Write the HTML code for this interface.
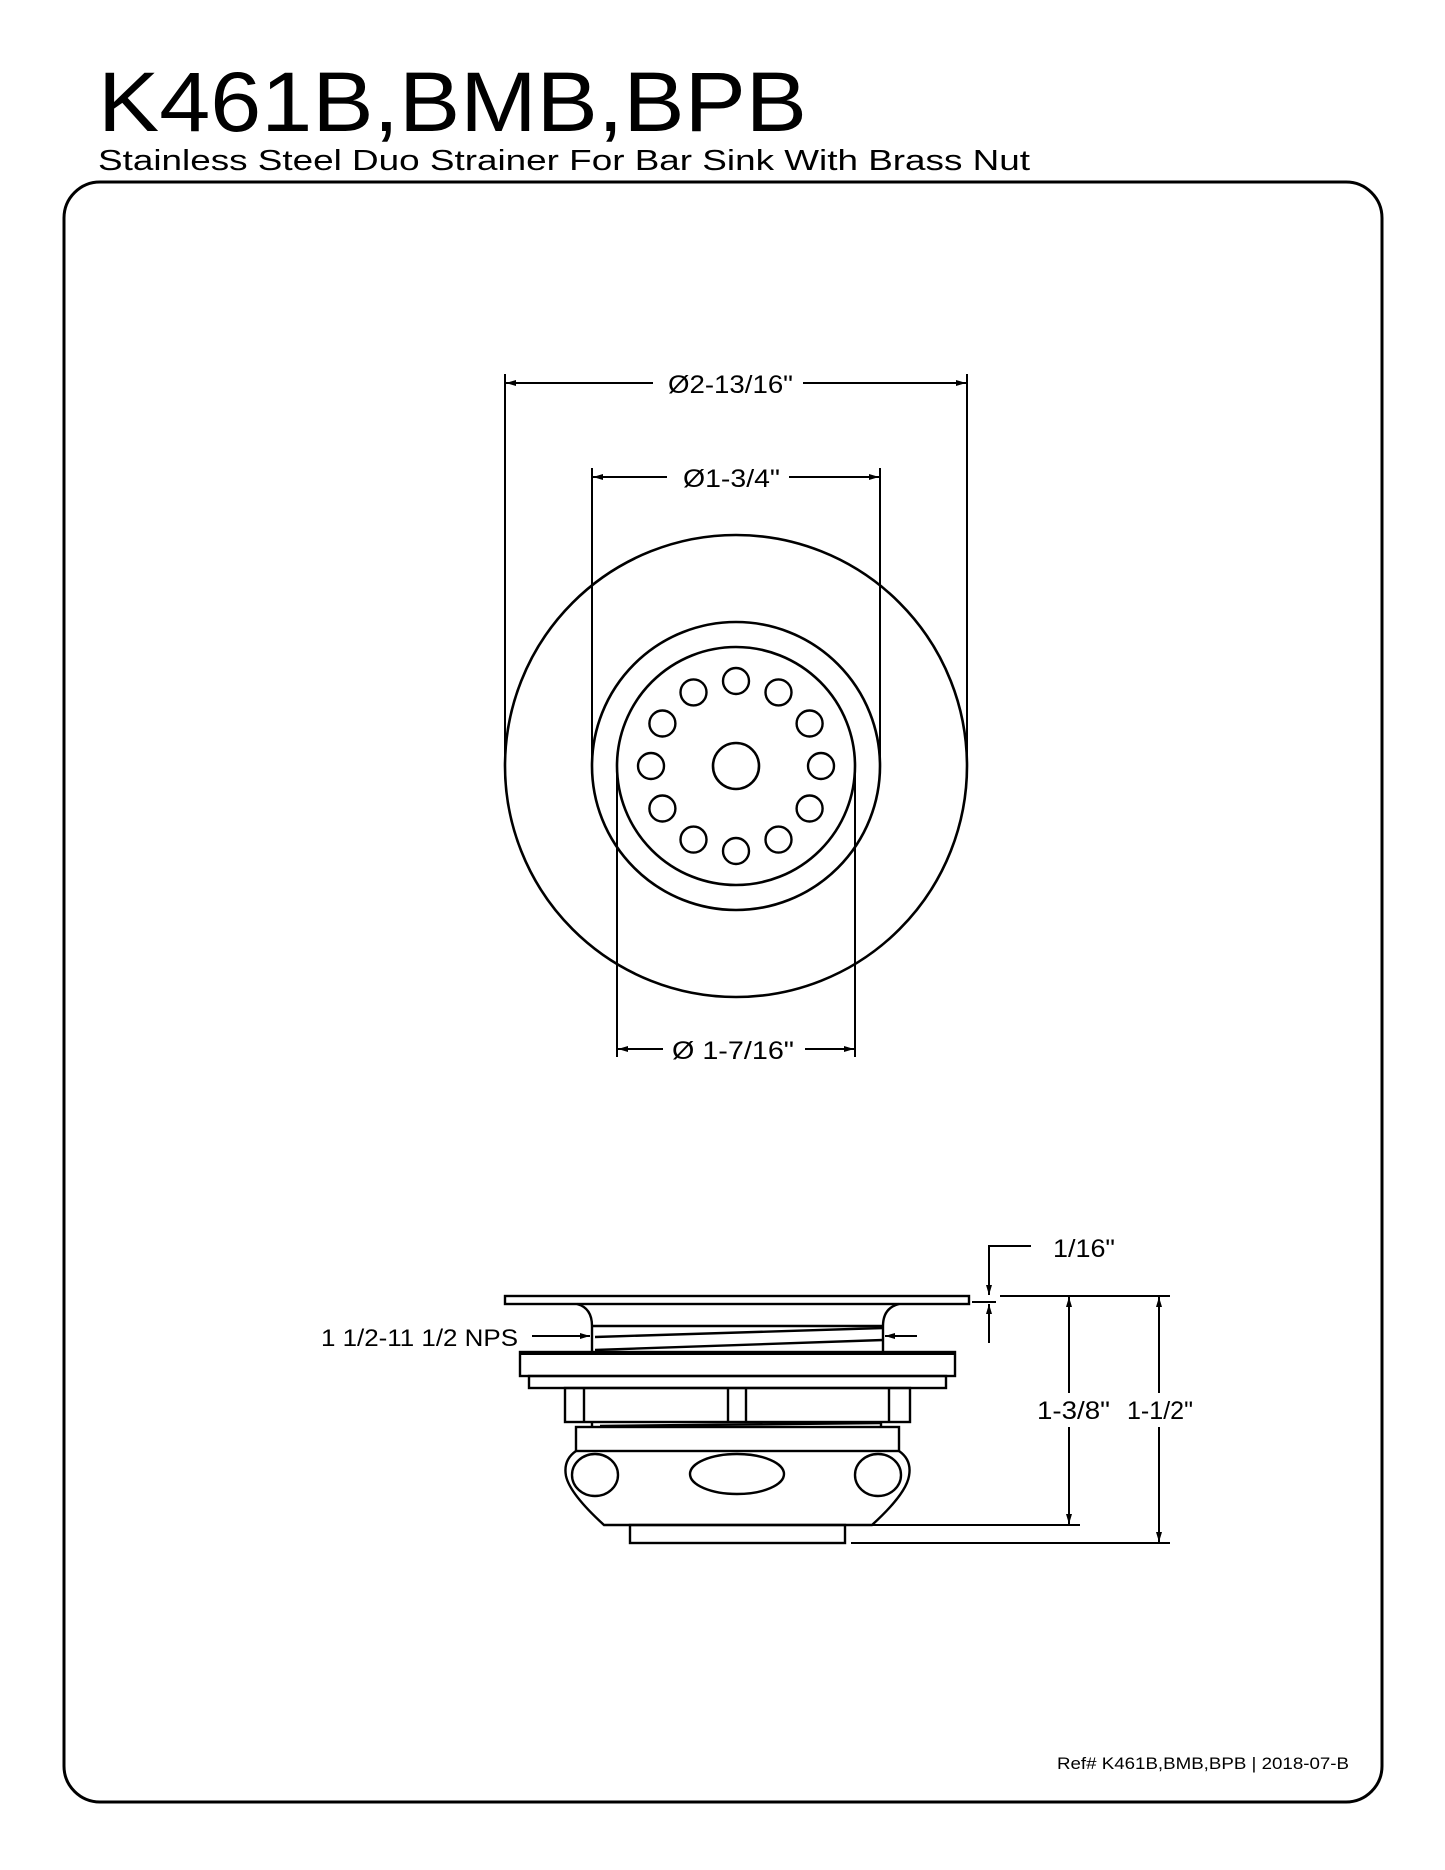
<!DOCTYPE html>
<html><head><meta charset="utf-8"><style>
html,body{margin:0;padding:0;background:#fff;}
svg{display:block;}
text{font-family:"Liberation Sans",sans-serif;fill:#000;}
</style></head><body>
<svg width="1445" height="1870" viewBox="0 0 1445 1870" xmlns="http://www.w3.org/2000/svg">
<defs>
<marker id="a" viewBox="0 0 10 6" refX="10" refY="3" markerWidth="16" markerHeight="6" markerUnits="userSpaceOnUse" orient="auto"><path d="M0,0 L10,3 L0,6 z" fill="#000"/></marker>
</defs>
<text x="98" y="131" font-size="84" textLength="709" lengthAdjust="spacingAndGlyphs">K461B,BMB,BPB</text>
<text x="98" y="170" font-size="29" textLength="932" lengthAdjust="spacingAndGlyphs">Stainless Steel Duo Strainer For Bar Sink With Brass Nut</text>
<rect x="64" y="182" width="1318" height="1620" rx="36" ry="36" fill="none" stroke="#000" stroke-width="3"/>

<g fill="none" stroke="#000" stroke-width="2.6">
<circle cx="736" cy="766" r="231"/>
<circle cx="736" cy="766" r="144"/>
<circle cx="736" cy="766" r="119"/>
<circle cx="736" cy="766" r="23"/>
</g>
<g fill="none" stroke="#000" stroke-width="2.4">
<circle cx="736" cy="681" r="13"/><circle cx="778.5" cy="692.4" r="13"/><circle cx="809.6" cy="723.5" r="13"/>
<circle cx="821" cy="766" r="13"/><circle cx="809.6" cy="808.5" r="13"/><circle cx="778.5" cy="839.6" r="13"/>
<circle cx="736" cy="851" r="13"/><circle cx="693.5" cy="839.6" r="13"/><circle cx="662.4" cy="808.5" r="13"/>
<circle cx="651" cy="766" r="13"/><circle cx="662.4" cy="723.5" r="13"/><circle cx="693.5" cy="692.4" r="13"/>
</g>
<g stroke="#000" stroke-width="2" fill="none">
<line x1="505" y1="374" x2="505" y2="766"/><line x1="967" y1="374" x2="967" y2="766"/>
<line x1="653" y1="383" x2="506" y2="383" marker-end="url(#a)"/>
<line x1="803" y1="383" x2="966" y2="383" marker-end="url(#a)"/>
<line x1="592" y1="468" x2="592" y2="766"/><line x1="880" y1="468" x2="880" y2="766"/>
<line x1="667" y1="477" x2="593" y2="477" marker-end="url(#a)"/>
<line x1="789" y1="477" x2="879" y2="477" marker-end="url(#a)"/>
<line x1="617" y1="766" x2="617" y2="1057"/><line x1="855" y1="766" x2="855" y2="1057"/>
<line x1="663" y1="1049" x2="618" y2="1049" marker-end="url(#a)"/>
<line x1="805" y1="1049" x2="854" y2="1049" marker-end="url(#a)"/>
</g>
<text x="668" y="393" font-size="25" textLength="125" lengthAdjust="spacingAndGlyphs">Ø2-13/16"</text>
<text x="683" y="487" font-size="25" textLength="97" lengthAdjust="spacingAndGlyphs">Ø1-3/4"</text>
<text x="672" y="1059" font-size="25" textLength="122" lengthAdjust="spacingAndGlyphs">Ø 1-7/16"</text>

<!-- side view -->
<g fill="none" stroke="#000" stroke-width="2.4">
<rect x="505" y="1296" width="464" height="8"/>
<path d="M577,1304 Q592,1308 592,1326 L592,1351 M899,1304 Q883,1308 883,1326 L883,1351"/>
<line x1="592" y1="1326" x2="883" y2="1326"/>
<line x1="595" y1="1337" x2="883" y2="1328"/>
<line x1="595" y1="1350" x2="883" y2="1340"/>
<rect x="520" y="1352" width="435" height="24"/>
<line x1="520" y1="1353" x2="955" y2="1353" stroke-width="4"/>
<rect x="529" y="1376" width="417" height="12"/>
<rect x="565" y="1388" width="345" height="34"/>
<line x1="584" y1="1388" x2="584" y2="1422"/><line x1="728" y1="1388" x2="728" y2="1422"/>
<line x1="746" y1="1388" x2="746" y2="1422"/><line x1="889" y1="1388" x2="889" y2="1422"/>
<line x1="592" y1="1422" x2="592" y2="1427"/><line x1="881" y1="1422" x2="881" y2="1427"/>
<line x1="600" y1="1426" x2="881" y2="1423"/>
<rect x="576" y="1427" width="323" height="24"/>
<path d="M576,1451 Q563,1460 566,1476 Q570,1494 604,1525 L872,1525 Q906,1494 909,1476 Q912,1460 899,1451"/>
<ellipse cx="595" cy="1475" rx="23" ry="21"/>
<ellipse cx="878" cy="1475" rx="23" ry="21"/>
<ellipse cx="737" cy="1474" rx="47" ry="20"/>
<rect x="630" y="1525" width="215" height="18"/>
</g>
<g stroke="#000" stroke-width="2" fill="none">
<line x1="1000" y1="1296" x2="1170" y2="1296"/>
<line x1="872" y1="1525" x2="1080" y2="1525"/>
<line x1="851" y1="1543" x2="1170" y2="1543"/>
<line x1="1069" y1="1393" x2="1069" y2="1297" marker-end="url(#a)"/>
<line x1="1069" y1="1427" x2="1069" y2="1524" marker-end="url(#a)"/>
<line x1="1159" y1="1393" x2="1159" y2="1297" marker-end="url(#a)"/>
<line x1="1159" y1="1427" x2="1159" y2="1542" marker-end="url(#a)"/>
<polyline points="1031,1246 989,1246 989,1295" marker-end="url(#a)"/>
<line x1="972" y1="1302" x2="996" y2="1302"/>
<line x1="989" y1="1343" x2="989" y2="1304" marker-end="url(#a)"/>
<line x1="532" y1="1336" x2="590" y2="1336" marker-end="url(#a)"/>
<line x1="917" y1="1336" x2="885" y2="1336" marker-end="url(#a)"/>
</g>
<text x="1053" y="1257" font-size="25" textLength="62" lengthAdjust="spacingAndGlyphs">1/16"</text>
<text x="1037" y="1419" font-size="25" textLength="73" lengthAdjust="spacingAndGlyphs">1-3/8"</text>
<text x="1127" y="1419" font-size="25" textLength="66" lengthAdjust="spacingAndGlyphs">1-1/2"</text>
<text x="321" y="1346" font-size="24" textLength="197" lengthAdjust="spacingAndGlyphs">1 1/2-11 1/2 NPS</text>
<text x="1057" y="1769" font-size="17" textLength="292" lengthAdjust="spacingAndGlyphs">Ref# K461B,BMB,BPB  | 2018-07-B</text>
</svg>
</body></html>
